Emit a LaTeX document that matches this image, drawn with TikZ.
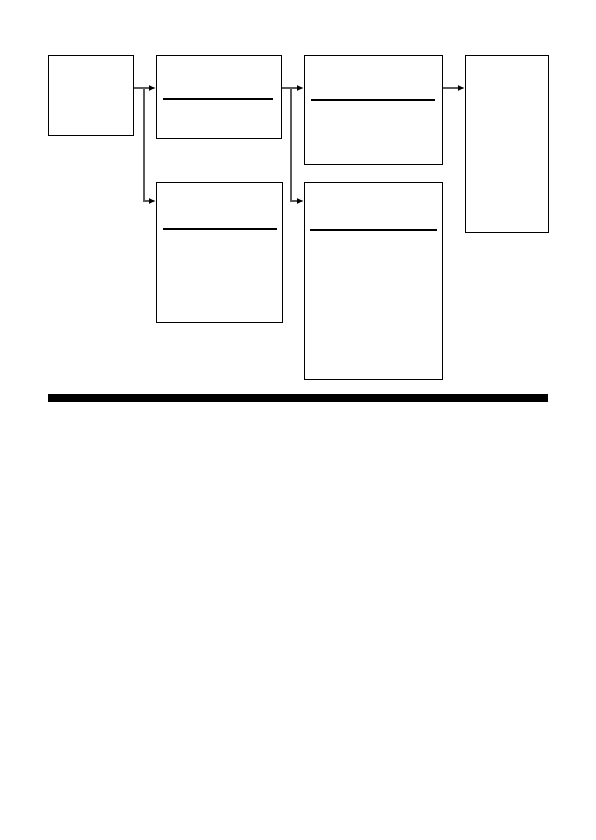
\documentclass[tikz,border=0pt]{standalone}
\usetikzlibrary{arrows.meta}

\begin{document}
\begin{tikzpicture}[
    x=1pt, y=-1pt,
    >={Latex[length=7pt,width=6pt,color=black]},
    box/.style  = {draw, line width=1.2pt, rectangle, anchor=north west, inner sep=0pt},
    link/.style = {draw=black!65, line width=1.4pt, ->},
    rule/.style = {draw, line width=1.1pt},
  ]
% page frame
\useasboundingbox (0,0) rectangle (596,840);

% boxes
\node [box, minimum width=85, minimum height=80]  (src)   at (48,55)  {};
\node [box, minimum width=125, minimum height=83] (stepA) at (156,55) {};
\node [box, minimum width=126, minimum height=140] (stepB) at (156,182) {};
\node [box, minimum width=138, minimum height=109] (stepC) at (304,55) {};
\node [box, minimum width=138, minimum height=197] (stepD) at (304,182) {};
\node [box, minimum width=83, minimum height=177]  (sink)  at (465,55) {};

% rules inside boxes
\draw [rule] (163,99) -- (273,99);
\draw [rule] (163,229) -- (277,229);
\draw [rule] (311,100) -- (435,100);
\draw [rule] (310,230) -- (437,230);

% connectors
\coordinate (top) at (0,88);
\coordinate (low) at (0,201);
\coordinate (fork1) at (144,88);
\coordinate (fork2) at (291,88);

\draw [link] (src.east |- top) -- (stepA.west |- top);
\draw [link] (fork1) -- (fork1 |- low) -- (stepB.west |- low);
\draw [link] (stepA.east |- top) -- (stepC.west |- top);
\draw [link] (fork2) -- (fork2 |- low) -- (stepD.west |- low);
\draw [link] (stepC.east |- top) -- (sink.west |- top);

% bar
\fill [black] (48,394) rectangle (548,402);

\end{tikzpicture}
\end{document}
